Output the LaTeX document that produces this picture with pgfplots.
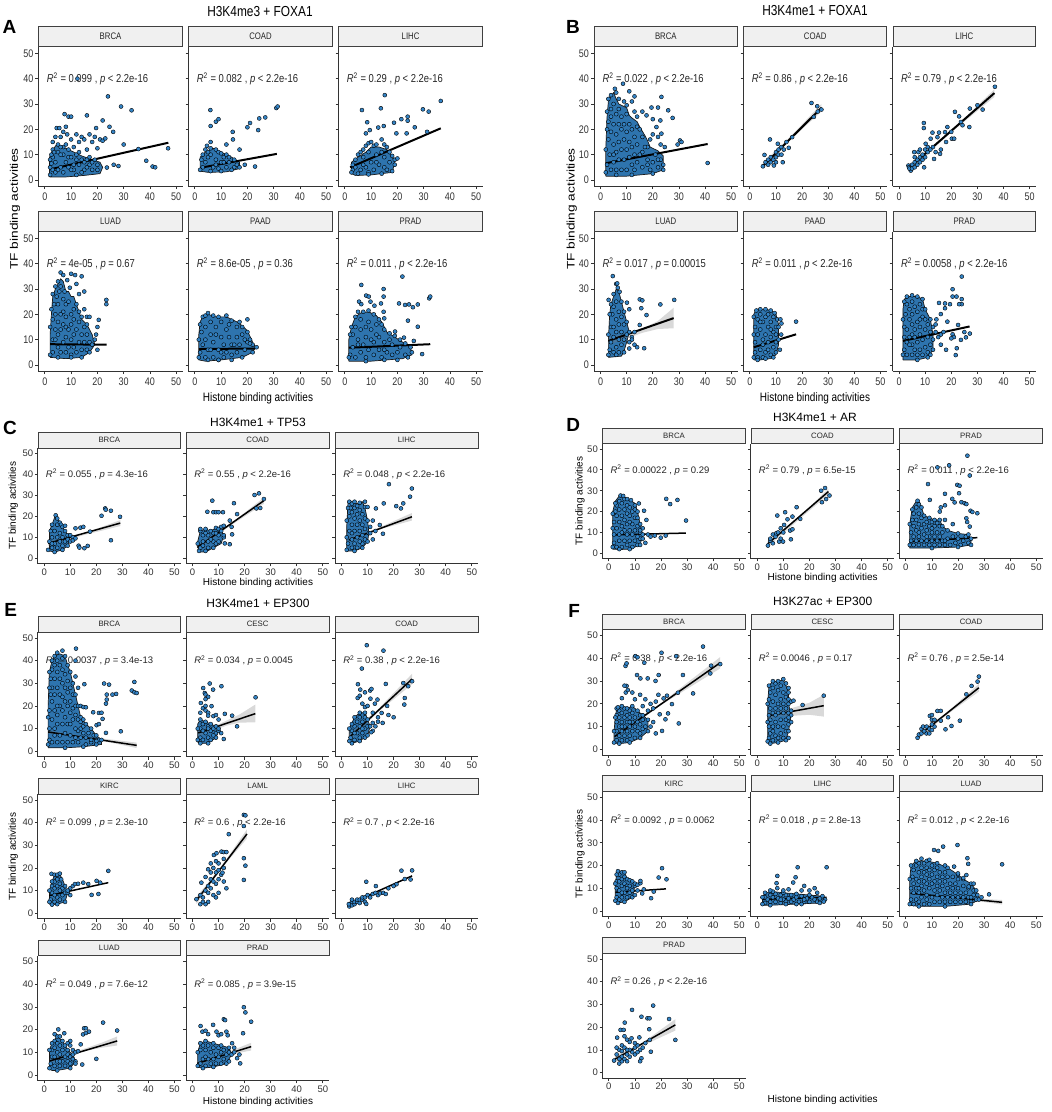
\documentclass[border=0pt]{standalone}
\usepackage{fontspec}
\setmainfont{Liberation Sans}
\newfontfamily\narrow[FakeStretch=0.82]{Liberation Sans}
\usepackage{graphicx}
\usepackage{pgfplots}
\pgfplotsset{compat=1.18}
\definecolor{ptblue}{RGB}{52,132,198}
\pgfplotsset{
  base/.style={scale only axis, anchor=north west, xmin=-2.5,xmax=52.5,ymin=-2.5,ymax=52.5,
    axis x line*=bottom, axis y line*=left, axis line style={-,line width=0.9pt,black!80},
    xtick={0,10,20,30,40,50}, ytick={0,10,20,30,40,50}, tick align=outside, major tick length=2.8pt,
    tick style={line width=0.8pt,black!80}, clip=false, /pgf/number format/assume math mode=true,
    every axis title/.style={at={(0.5,1)}, anchor=south, draw=black!75, fill=black!6, line width=0.8pt, inner sep=0pt, text=black!85}},
  ab/.style={base, height=139.3pt, ticklabel style={font=\narrow\fontsize{11}{11}\selectfont, text=black!80},
    yticklabel style={inner sep=2pt},
    every axis title/.append style={minimum height=20pt, font=\narrow\fontsize{9.5}{9.5}\selectfont}},
  cf/.style={base, ticklabel style={font=\fontsize{9.5}{9.5}\selectfont, text=black!80},
    xticklabel style={inner sep=2pt}, yticklabel style={inner sep=1.5pt},
    every axis title/.append style={minimum height=15.5pt, font=\fontsize{7.8}{7.8}\selectfont}},
  fA/.style={ab, width=144.5pt, every axis title/.append style={minimum width=143.7pt}},
  fB/.style={ab, width=143.7pt, every axis title/.append style={minimum width=142.9pt}},
  fC/.style={cf, width=143.3pt, height=115.2pt, every axis title/.append style={minimum width=142.5pt}},
  fD/.style={cf, width=143.5pt, height=114.7pt, every axis title/.append style={minimum width=142.7pt}},
  fE/.style={cf, width=143.3pt, height=124.6pt, every axis title/.append style={minimum width=142.5pt}},
  fF/.style={cf, width=143.5pt, height=125pt, every axis title/.append style={minimum width=142.7pt}},
  pts/.style={only marks, mark=*, mark size=2pt, mark options={fill=ptblue, draw=black, line width=0.4pt}},
  cloud/.style={fill=ptblue!88!black, draw=black!90, line width=0.7pt},
  band/.style={fill=gray, fill opacity=0.3, draw=none},
  regab/.style={black, line width=2pt},
  regcf/.style={black, line width=1.5pt},
}
\newcommand{\rlab}[2]{\node[anchor=west,inner sep=0pt,font=\narrow\fontsize{11.5}{11.5}\selectfont,text=black!85] at (axis cs:0.7,40) {\textit{R}\textsuperscript{2} = #1 , \textit{p} #2};}
\newcommand{\rlcf}[2]{\node[anchor=west,inner sep=0pt,font=\fontsize{9.5}{9.5}\selectfont,text=black!85] at (axis cs:0.6,40) {\textit{R}\textsuperscript{2} = #1 , \textit{p} #2};}
\begin{document}
\begin{tikzpicture}
\useasboundingbox (0,0) rectangle (1052pt,-1112pt);
% ---------------- Titles and labels ----------------
\node[font=\narrow\fontsize{14.5}{14.5}\selectfont] at (260pt,-12pt) {H3K4me3 + FOXA1};
\node[font=\narrow\fontsize{14.5}{14.5}\selectfont] at (815pt,-11pt) {H3K4me1 + FOXA1};
\node[font=\fontsize{12}{12}\selectfont] at (258pt,-422.3pt) {H3K4me1 + TP53};
\node[font=\fontsize{12}{12}\selectfont] at (815pt,-417.7pt) {H3K4me1 + AR};
\node[font=\fontsize{12}{12}\selectfont] at (258pt,-603.3pt) {H3K4me1 + EP300};
\node[font=\fontsize{12}{12}\selectfont] at (822.7pt,-601pt) {H3K27ac + EP300};
\node[font=\fontsize{19}{19}\selectfont\bfseries] at (9.5pt,-26.7pt) {A};
\node[font=\fontsize{19}{19}\selectfont\bfseries] at (573pt,-27pt) {B};
\node[font=\fontsize{19}{19}\selectfont\bfseries] at (10pt,-428pt) {C};
\node[font=\fontsize{19}{19}\selectfont\bfseries] at (573.3pt,-425pt) {D};
\node[font=\fontsize{19}{19}\selectfont\bfseries] at (10.8pt,-610.3pt) {E};
\node[font=\fontsize{19}{19}\selectfont\bfseries] at (574.2pt,-611.2pt) {F};
\node[rotate=90,font=\fontsize{13.7}{13.7}\selectfont] at (15pt,-209pt) {\scalebox{1}[0.8]{TF binding activities}};
\node[rotate=90,font=\fontsize{13.7}{13.7}\selectfont] at (571.7pt,-209pt) {\scalebox{1}[0.8]{TF binding activities}};
\node[font=\narrow\fontsize{12.2}{12.2}\selectfont] at (258pt,-398.3pt) {Histone binding activities};
\node[font=\narrow\fontsize{12.2}{12.2}\selectfont] at (815pt,-398.3pt) {Histone binding activities};
\node[rotate=90,font=\fontsize{10}{10}\selectfont] at (13.3pt,-505.7pt) {TF binding activities};
\node[font=\fontsize{10}{10}\selectfont] at (258pt,-583.3pt) {Histone binding activities};
\node[rotate=90,font=\fontsize{10}{10}\selectfont] at (580pt,-501pt) {TF binding activities};
\node[font=\fontsize{10}{10}\selectfont] at (822.7pt,-578.3pt) {Histone binding activities};
\node[rotate=90,font=\fontsize{10}{10}\selectfont] at (13.3pt,-856.7pt) {TF binding activities};
\node[font=\fontsize{10}{10}\selectfont] at (258pt,-1101.7pt) {Histone binding activities};
\node[rotate=90,font=\fontsize{10}{10}\selectfont] at (580pt,-854pt) {TF binding activities};
\node[font=\fontsize{10}{10}\selectfont] at (822.7pt,-1100pt) {Histone binding activities};
% ================= Panel A =================
\begin{axis}[fA, at={(38.3pt,-47pt)}, title=BRCA]
\addplot[cloud] coordinates {(1.8,1.2)(1.8,9)(3,12)(4.5,14)(6,13.5)(8,12.5)(10,11.5)(14,9.5)(18,8)(21,7)(22,5)(21,2.5)(15,1.8)(8,1.2)(1.8,1.2)};
\addplot[pts] coordinates {(3,4)(4,3)(6,5)(7,3)(8,7)(9,5)(11,4)(12,10)(13,6)(14,8)(15,4)(16,8)(17,6)(18,7)(20,4)(3,9)(5,11)(7,13)(9,9)(2.5,6.5)};
\addplot[pts] coordinates {(2,2)(2,5)(2,8)(2.5,10)(3,12)(3,15)(3.5,11)(4,17)(4.5,20.5)(5,14)(5.5,20.5)(6,17)(6,13)(7,19)(7,10)(7.5,26)(8,21)(8,14)(8.5,18)(9,25)(9,12)(10,25)(10,16)(10,9)(11,13)(12,18)(12,8)(13,15)(13,11)(14,17)(14,3)(15,16)(15,7)(16,25.5)(16,12)(17,18)(17,9)(18,15)(18,4)(19,17)(19.5,20.5)(20,12.5)(20,6)(21,16)(22,15.5)(23,16.4)(22,23.5)(24.6,21)(26,19)(30,14)(24,33)(29,29)(33,27.5)(12.4,40)(35.6,12.2)(38.6,7.6)(41,5.3)(42,5)(46.9,12.5)(23.6,4.9)(26.2,6)(28,5.5)(5,4)(10,4)(12,2)(16,5)(19,8)(4,7)(6,10)(11,6)};
\addplot[regab] coordinates {(2,4.2)(47,14.7)};
\rlab{0.099}{< 2.2e-16}
\end{axis}
\begin{axis}[fA, at={(188.3pt,-47pt)}, title=COAD, yticklabels={}]
\addplot[cloud] coordinates {(2,3.5)(2,9)(4,11)(7,12.5)(10,11)(14,9)(17,7)(17,4.5)(12,3.2)(5,3)(2,3.5)};
\addplot[pts] coordinates {(3,5)(4,7)(5,9)(7,5)(8,8)(9,4.5)(10,7)(12,5)(13,7)(15,5)(6,10)(11,9)};
\addplot[pts] coordinates {(2,4)(2.5,8)(3,10)(4,12)(5,11)(6,12.5)(8,12)(9,11)(10,10.5)(12,10)(13,9)(15,8)(16,6)(17,5)(14,4)(10,3.5)(6,3.5)(4.6,13.5)(6,15)(5.9,27.6)(6,21.3)(8,23)(9,24)(14.4,19)(14.5,16)(12,14)(17,12)(20,20.8)(21,22.5)(24.1,19.7)(24.5,24.3)(26.8,24.7)(22.9,5.3)(31,28.4)(31.5,29)(8,6)(11,7)(19,6)};
\addplot[regab] coordinates {(2,4.8)(31.2,10.3)};
\rlab{0.082}{< 2.2e-16}
\end{axis}
\begin{axis}[fA, at={(338.3pt,-47pt)}, title=LIHC, yticklabels={}]
\addplot[cloud] coordinates {(2.5,2.5)(2.5,7)(5,9)(8,11)(10,13)(13,13)(16,12)(18,9)(19,7)(18,3)(10,2)(4,1.8)(2.5,2.5)};
\addplot[pts] coordinates {(3,4)(4,5)(6,4)(7,9)(8,5)(9,11)(10,7)(11,4)(12,10)(13,6)(14,11)(15,9)(16,4)(17,7)(9,3)};
\addplot[pts] coordinates {(2.5,3)(3,6)(4,8)(5,10)(6,11)(7,12)(8,13.5)(9,14.5)(10,15)(11,13.5)(12,14)(14,16)(15,14)(16,13)(17,11)(18,9.5)(19,8)(19,6)(18,3.5)(14,2.5)(9,2.2)(5,2.5)(15.2,33.5)(6.5,27.6)(13.7,28.3)(8.5,22.8)(8,18.4)(9.5,19.7)(12.7,20.7)(14.8,21.3)(18.7,22.6)(21.5,24)(23.9,25)(23.9,23.4)(26.6,20.8)(29.7,27.9)(31.9,27)(36.5,31.2)(23.5,18.4)(19.6,18.4)(31.3,19)(20,8.5)(12,7)(7,6)(15,5)};
\addplot[regab] coordinates {(2,5)(36.5,20.4)};
\rlab{0.29}{< 2.2e-16}
\end{axis}
\begin{axis}[fA, at={(38.3pt,-232pt)}, title=LUAD]
\addplot[cloud] coordinates {(2,3)(2,12)(2.5,20)(3,27)(4,30)(5,32)(6,34)(7,33)(8,29)(9,29)(10,27)(11,27)(12,24)(13,21)(14,18)(16,16)(18,12)(19,8)(17,5)(14,3)(8,2.5)(2,3)};
\addplot[pts] coordinates {(3,5)(3,10)(3,18)(3.5,24)(4,14)(4,20)(4.5,27)(5,7)(5,12)(5,17)(5,24)(5.5,29)(6,5)(6,14)(6,31)(7,9)(7,16)(7,21)(7.5,29)(8,5)(8,11)(8,19)(8,24)(9,7)(9,14)(9,25)(10,4)(10,10)(10,16)(11,7)(11,18)(11,22)(12,5)(12,14)(13,9)(13,17)(14,6)(14,12)(15,9)(16,6)(16,12)(17,9)};
\addplot[pts] coordinates {(2,4)(2,15)(2.5,22)(3,28)(4,31)(5,33)(6,36.5)(7,35.5)(8.5,33.5)(9.5,30.5)(10,36)(11.5,35.5)(12,32)(14,35)(13,28)(15,29)(12,24)(13,21)(15,22)(14,19)(16,19)(17,19)(16,16)(15,15)(20,15)(19.5,12)(20.5,17.8)(23.4,25.7)(23.4,24)(19,10)(20,6)(18,8)(17,5)(14,3)(10,3)(5,3)(6,20)(8,15)(4,10)(10,20)(7,26)(11,12)};
\addplot[regab] coordinates {(2,8.2)(23.5,8)};
\rlab{4e-05}{= 0.67}
\end{axis}
\begin{axis}[fA, at={(188.3pt,-232pt)}, title=PAAD, yticklabels={}]
\addplot[cloud] coordinates {(1.5,2)(1.5,12)(2,17)(3,19)(5,20)(8,19)(12,19)(16,17)(18,15.5)(20,13.5)(22,9)(23,7)(22,5)(18,3)(10,2)(4,1.5)(1.5,2)};
\addplot[pts] coordinates {(2,5)(2.5,13)(3,8)(4,3)(4,15)(5,6)(6,12)(6,17)(7,3)(7,9)(8,15)(9,6)(10,11)(10,17)(11,3)(11,8)(12,5)(13,11)(13,16)(14,4)(14,8)(16,5)(16,11)(17,8)(18,12)(19,6)(20,9)(9,2)};
\addplot[pts] coordinates {(1.5,3)(1.5,10)(2,16)(3,19)(4,19.5)(5,20.5)(7,19.5)(9,19)(12,19.5)(14,17.5)(17,17)(16,15)(18,15)(20,18)(20,13)(21,10)(22,8)(23.5,7)(21,8.5)(19,10)(22,5)(18,3)(14,2)(9,2)(5,2)(4,10)(8,12)(12,14)(15,8)(6,6)(10,5)};
\addplot[regab] coordinates {(1.5,6.3)(23,6.5)};
\rlab{8.6e-05}{= 0.36}
\end{axis}
\begin{axis}[fA, at={(338.3pt,-232pt)}, title=PRAD, yticklabels={}]
\addplot[cloud] coordinates {(1.5,1.5)(1.5,10)(2.5,15)(4,19)(6,20.5)(9,21)(12,19.5)(14,17)(16,13)(19,11)(22,9)(25,7)(25.5,4)(22,2.5)(10,1.5)(1.5,1.5)};
\addplot[pts] coordinates {(2,4)(3,7)(3,12)(4,3)(4,15)(5,10)(6,5)(6,14)(6,18)(7,8)(8,3)(8,11)(9,6)(9,17)(10,14)(11,4)(11,9)(12,16)(13,6)(13,11)(14,3)(15,9)(16,5)(17,10)(18,4)(18,8)(20,5)(21,7)(23,4)};
\addplot[pts] coordinates {(1.5,3)(2,12)(2.5,15)(4,19)(5,21)(7,21)(9,21.5)(11,20)(13,18)(14,16)(15,14)(17,12.5)(19,11.5)(21,10)(23,8.5)(25,7)(25.5,5)(24,3)(20,2)(15,2)(8,1.5)(21.9,34.9)(6.25,31.6)(14.75,30)(14.75,27)(8.1,27.4)(9.1,27)(9.75,25)(11.25,23.4)(5.4,25)(6.25,24)(13.75,24.3)(20.6,24.3)(22.9,23.7)(24.4,23.9)(25.9,22.8)(27.75,23.9)(32.1,26.3)(32.5,27)(24,17.5)(27.75,15.1)(29.4,4.3)(14.75,21)(15,18.4)(19.1,13.2)(22.5,10.8)(26.25,9.5)(5,8)(10,10)(15,6)(8,15)(12,12)};
\addplot[regab] coordinates {(1.5,6.8)(32.5,8.2)};
\rlab{0.011}{< 2.2e-16}
\end{axis}
% ================= Panel B =================
\begin{axis}[fB, at={(594pt,-47pt)}, title=BRCA]
\addplot[cloud] coordinates {(2,1.5)(2,12)(2.5,25)(3,31)(4,33)(5,34.5)(6,32)(7,30)(9,29)(10,28.5)(11,25.5)(12,24.5)(14,23)(15,21)(17,17.5)(18,15.5)(19,13)(22,11.5)(24,9.5)(24,4)(20,2.5)(10,1.5)(2,1.5)};
\addplot[pts] coordinates {(2.5,6)(3,16)(3,23)(3.5,10)(4,4)(4,19)(4,28)(5,7)(5,14)(5,22)(5,30)(6,4)(6,11)(6,18)(6,26)(7,8)(7,15)(7,22)(7,28)(8,4)(8,12)(8,25)(9,8)(9,16)(9,22)(10,4)(10,19)(10,26)(11,9)(11,15)(11,22)(12,6)(12,13)(12,20)(13,4)(13,10)(13,17)(14,7)(14,14)(14,21)(16,5)(16,11)(16,17)(18,8)(18,13)(19,4)(20,7)(21,10)(22,5)(23,8)};
\addplot[pts] coordinates {(2,3)(2,12)(2.5,20)(2.5,27)(3,32)(4,33.5)(5.5,36)(6,34.5)(7,32)(9,31)(10,29.5)(12,31)(13,27)(14,25)(16,27)(17.6,25.5)(19.5,28.6)(20,24)(21.4,20.9)(22,28.6)(22.9,23.5)(23.3,32.8)(23.3,18.3)(25.9,27.5)(27.6,24.5)(8.6,38)(13,33)(11,35)(20,18)(22,17)(23,14)(24.6,13)(19,16)(29.5,14)(30.4,15.6)(31,15)(41,6.7)(15,20)(17,13)(22,8)(24,6)(24,4)(20,2.5)(12,2)(6,2)(5,10)(10,12)(8,20)(15,10)(18,6)(4,25)};
\addplot[regab] coordinates {(2,6.6)(41,14.2)};
\rlab{0.022}{< 2.2e-16}
\end{axis}
\begin{axis}[fB, at={(743.3pt,-47pt)}, title=COAD, yticklabels={}]
\addplot[pts] coordinates {(5,5.4)(5.6,9.9)(6,7)(7,8)(7,6)(7.7,16)(8,7)(8,9)(9.2,5.7)(9,8)(10,7)(10,9)(10,11)(10.7,14.3)(11,10)(11,12)(12,13)(12.1,10)(12.6,7)(13,12)(14,15)(14.9,12.7)(16.2,16.9)(23.6,30.4)(24.5,24.9)(25.8,29.1)(27.4,27.8)(26,27)};
\addplot[band] coordinates {(5,6.8)(16,17.6)(27.4,30)(27.4,27)(16,16.4)(5,4.2)};
\addplot[regab] coordinates {(5,5.5)(27.4,28.5)};
\rlab{0.86}{< 2.2e-16}
\end{axis}
\begin{axis}[fB, at={(892.5pt,-47pt)}, title=LIHC, yticklabels={}]
\addplot[pts] coordinates {(3.6,5.7)(3.8,5)(4.5,3.7)(4,4.5)(5,4.5)(5,6)(5.8,11)(6,5)(6,7)(7,6)(7,8)(7.4,11)(8,7)(8,9)(9,8)(9,10)(9.6,5)(10,9)(10,12)(10.2,14.3)(9.5,22.5)(9.5,20.5)(11,11)(11,13)(12,12)(12.1,16.3)(12.8,18.7)(13,13)(13.4,8.3)(14,11)(14.7,16.9)(15.3,18.7)(15.7,10.3)(16,12)(17.6,18.9)(18.5,20.9)(20.2,16.3)(21.1,16.3)(21.4,26.9)(23,25.1)(23.7,22.9)(24.3,21.6)(26.9,20.9)(27.1,28.2)(30,29.5)(32,27.8)(36.7,36.8)(18,15)(20,19)(8,12)(6,9)};
\addplot[band] coordinates {(3.5,5.6)(20,19.5)(36.5,35.8)(36.5,32.8)(20,18.8)(3.5,3.4)};
\addplot[regab] coordinates {(3.5,4.5)(36.5,34.3)};
\rlab{0.79}{< 2.2e-16}
\end{axis}
\begin{axis}[fB, at={(594pt,-232pt)}, title=LUAD]
\addplot[cloud] coordinates {(3,3)(3,10)(3.5,20)(4,24)(5,27)(6,30)(7,29)(8,25)(9,21)(10,17)(11,13)(10,9)(9,5.5)(8,3.5)(3,3)};
\addplot[pts] coordinates {(3.5,6)(4,9)(4,15)(4.5,20)(5,5)(5,11)(5,23)(6,7)(6,13)(6,18)(6,25)(7,5)(7,16)(7,21)(8,8)(8,13)(8,19)(9,10)(9,16)};
\addplot[pts] coordinates {(3,4)(3,12)(3.5,20)(4,24)(3.1,25.7)(5,28)(4.7,35.1)(6,32)(6.4,32.2)(6.6,30.5)(7.3,28.9)(8,25)(9,21)(10.1,24.6)(10,17)(11,13)(11,22)(12,11)(13,13)(12,10)(13,8)(11,6.5)(14,7)(16.7,6.6)(15,25.9)(16,25.5)(15.6,22.4)(17.6,19.7)(15,15.8)(22.9,23.9)(28.2,25.7)(10,12)(11,9)(9,5)(6,4)(5,15)(7,10)};
\addplot[band] coordinates {(3,11)(10,12.4)(16,14.3)(22,17.4)(28,22.6)(28,14.5)(22,14.2)(16,12.7)(10,10.4)(3,8)};
\addplot[regab] coordinates {(3,9.5)(28,18.5)};
\rlab{0.017}{= 0.00015}
\end{axis}
\begin{axis}[fB, at={(743.3pt,-232pt)}, title=PAAD, yticklabels={}]
\addplot[cloud] coordinates {(1.5,2)(1.5,20)(2.5,22)(6,22)(8,21.5)(10,20)(11,16)(11,8)(10,4)(8,2.5)(4,2)(1.5,2)};
\addplot[pts] coordinates {(2,5)(2,9)(2,15)(3,3)(3,12)(3,18)(4,6)(4,14)(4,20)(5,3)(5,8)(5,17)(6,5)(6,12)(6,19)(7,9)(7,15)(7,20)(8,4)(8,11)(8,17)(9,7)(9,13)(9,19)(10,9)(10,15)(10,12)};
\addplot[pts] coordinates {(1.5,3)(1.5,12)(1.5,19)(2.5,21.5)(4,22)(6,22)(8,21.5)(9.5,20.5)(10.5,18)(11,15)(11,10)(11.7,18)(12.1,16.4)(17.7,17.1)(11.5,6)(10,5)(12,12)(9,3)(6,2.5)(3,2)(5,10)(8,14)(4,17)(7,6)};
\addplot[regab] coordinates {(1.5,7)(17.7,12.1)};
\rlab{0.011}{< 2.2e-16}
\end{axis}
\begin{axis}[fB, at={(892.5pt,-232pt)}, title=PRAD, yticklabels={}]
\addplot[cloud] coordinates {(1.5,2)(1.5,22)(2,26)(4,27)(7,27)(9,26)(10,22)(12,18)(13,12)(13,6)(11,3)(7,2)(1.5,2)};
\addplot[pts] coordinates {(2,6)(2,11)(2,15)(2.5,20)(3,4)(3,9)(3,14)(3,24)(4,11)(4,18)(4,22)(5,4)(5,8)(5,16)(5,20)(5,25)(6,6)(6,11)(6,14)(6,23)(7,4)(7,9)(7,17)(7,21)(8,6)(8,12)(8,15)(8,24)(9,4)(9,10)(9,19)(9,22)(10,7)(10,14)(10,18)(11,5)(11,11)(11,16)(12,8)(12,13)(12,4)};
\addplot[pts] coordinates {(1.5,4)(1.5,18)(2,25)(3,27)(5,27.5)(7,27)(9,26)(10,22)(12,18)(13,15)(13,10)(13,6)(11,3)(7,2)(24,34.9)(20.5,29.9)(20.5,27)(22,27)(24,26)(24,24)(23,24)(19.5,24)(17.6,24.3)(15.3,24.5)(17.6,22.4)(16,20.1)(14.3,18)(14,16)(18.5,17.1)(22.6,15.8)(20.5,12.1)(15,11)(16,12)(21,11)(23.7,9.9)(22.1,6.6)(21.7,3.9)(25.6,10.9)(27.1,12.4)(14,13)(17,13)(20,10.5)(25,13)(16,8)(18,6)(5,12)(8,18)(4,8)};
\addplot[regab] coordinates {(1.5,9.5)(27,15.2)};
\rlab{0.0058}{< 2.2e-16}
\end{axis}
% ================= Panel C =================
\begin{axis}[fC, at={(37.7pt,-448.3pt)}, title=BRCA]
\addplot[cloud] coordinates {(2,3.5)(2,13)(3,16)(4,19.5)(5,19.5)(6,17)(7,15)(8,13)(9,11)(10,10)(9,6)(7,4)(4,3)(2,3.5)};
\addplot[pts] coordinates {(3,5)(3,10)(4,7)(4,13)(5,5)(5,16)(6,8)(6,12)(7,6)(7,10)(8,8)(9,9)};
\addplot[pts] coordinates {(1.5,4)(2,8)(2.5,13)(3,16)(4.4,20.5)(5,19)(6,17)(6.5,16)(7,15)(8,13)(8,15.5)(9,11)(10,11)(10,8)(11,10)(11,8.5)(12,9.5)(12,14.3)(13.9,14.6)(15,15)(13.2,6)(13.5,5.1)(15.4,4.8)(16.7,5.9)(17.6,12.7)(22,20.3)(23.4,23.8)(23.6,23.2)(25.6,22.7)(25.6,8.6)(29.1,19.8)(9,6)(7,4)(4,3)(5,10)(3,7)};
\addplot[band] coordinates {(1.5,8.2)(15,11.8)(29.2,18.2)(29.2,15.4)(15,11)(1.5,6)};
\addplot[regcf] coordinates {(1.5,7.1)(29.2,16.8)};
\rlcf{0.055}{= 4.3e-16}
\end{axis}
\begin{axis}[fC, at={(186pt,-448.3pt)}, title=COAD, yticklabels={}]
\addplot[cloud] coordinates {(2.5,3)(2,8)(3,13)(5,14)(7,13)(9,14.5)(11,13)(12,11)(11,7)(8,5)(5,3)(2.5,3)};
\addplot[pts] coordinates {(3,5)(4,8)(6,5)(6,11)(8,8)(8,12)(10,11)(9,7)};
\addplot[pts] coordinates {(2.5,3.5)(2,7)(3,13)(3,14)(4,11)(5,12)(5,14)(7,9)(7,13)(9,12)(9,14.5)(10,14)(11,15)(11,13)(12,10)(12,11)(10,8)(8,5)(5,3.5)(7.6,27.5)(5.7,22.2)(8,22)(9,22)(10,22)(11.7,22)(14.3,18)(15.9,26.3)(17.1,21.1)(15,15)(12,15.5)(15.2,11.4)(12.4,7.1)(14.3,6.7)(23.8,30.2)(25.5,31)(24.5,23.8)(26,24)(27.4,28.3)(4,6)(6,8)};
\addplot[band] coordinates {(1.8,6.4)(14,15.9)(27.4,29)(27.4,26)(14,15.1)(1.8,4)};
\addplot[regcf] coordinates {(1.8,5.2)(27.4,27.5)};
\rlcf{0.55}{< 2.2e-16}
\end{axis}
\begin{axis}[fC, at={(335pt,-448.3pt)}, title=LIHC, yticklabels={}]
\addplot[cloud] coordinates {(2,3.5)(2,15)(2.5,27)(4,27)(6,26)(8,27)(9,24)(10,18)(10.5,12)(10,8)(8,5)(5,3.5)(2,3.5)};
\addplot[pts] coordinates {(2.5,7)(3,13)(3,20)(3.5,24)(4,5)(4,9)(4,16)(4,22)(5,7)(5,13)(5,19)(5,24)(6,5)(6,10)(6,21)(7,13)(7,18)(7,23)(8,7)(8,11)(8,16)(8,21)(9,9)(9,14)(9,19)};
\addplot[pts] coordinates {(2,4)(2,10)(2,18)(2.5,24)(3,27)(4,26)(5,27)(6,25)(7,26.5)(9,27)(9,24.5)(10,24.5)(10,18)(10.5,12)(10,8)(8,5)(5,3.5)(12,18)(11,12)(13.2,23.8)(14.7,15.9)(15.9,11.7)(16.2,26.2)(18.2,35.4)(21,24.9)(22.8,23.8)(23.7,26.2)(26.3,29.4)(27,33.3)(12,9)(11,15)(13,13)(4,12)(6,16)(7,8)};
\addplot[band] coordinates {(2.8,9.6)(14,14.4)(27,21.6)(27,18)(14,13.6)(2.8,7.8)};
\addplot[regcf] coordinates {(2.8,8.7)(27,19.8)};
\rlcf{0.048}{< 2.2e-16}
\end{axis}
% ================= Panel D =================
\begin{axis}[fD, at={(602.3pt,-443.8pt)}, title=BRCA]
\addplot[cloud] coordinates {(1.5,2)(1.5,20)(2.5,25)(4,27.5)(6,27)(8,25.5)(10,24)(11,20)(12,14)(13,9)(12,4)(8,2)(4,1.8)(1.5,2)};
\addplot[pts] coordinates {(2,5)(2,9)(2,15)(2.5,20)(3,3)(3,12)(3,23)(4,6)(4,9)(4,15)(4,21)(4,25)(5,3)(5,13)(5,18)(5,24)(6,6)(6,11)(6,16)(6,21)(6,26)(7,4)(7,9)(7,14)(7,19)(7,23)(8,6)(8,11)(8,18)(8,22)(9,3)(9,9)(9,14)(9,20)(10,6)(10,11)(10,17)(10,21)(11,4)(11,13)(11,17)(12,7)(12,10)};
\addplot[pts] coordinates {(1.5,3)(1.5,12)(1.5,19)(2.5,24)(4.5,27.7)(5.5,27.5)(7,26)(8.5,25.5)(10,23)(11.5,23.9)(11,20)(12,14)(13,9)(12,4)(8,2)(4,2)(13.5,20.4)(14.4,16)(13,12)(15,9)(16,8)(17.6,8.5)(19.9,7.5)(21.8,8.5)(22,26.1)(23.5,23.6)(26.3,25.6)(29.6,15.7)(12,11)(11,8)(14,5)(13,7)(5,10)(8,15)(3,18)};
\addplot[regcf] coordinates {(1.5,8.8)(29.5,9.7)};
\rlcf{0.00022}{= 0.29}
\end{axis}
\begin{axis}[fD, at={(750.7pt,-443.8pt)}, title=COAD, yticklabels={}]
\addplot[pts] coordinates {(4.1,3.7)(5,6)(6,4.8)(5,7)(6,9)(7,8)(7.3,9.6)(7.7,18.1)(8.4,5.6)(8,10)(9,7)(9,12)(9.9,5.6)(10,10)(10.3,13.6)(10.7,19.7)(11.6,16.3)(13.5,17.6)(12.6,10.9)(13.5,11.5)(12.9,6.7)(15.1,22.1)(16.5,16.5)(24.5,30)(26,31.3)(24.8,24.5)(26.4,26)(27.7,27.7)};
\addplot[band] coordinates {(4,6)(16,17.3)(27.3,31)(27.3,28.2)(16,16.2)(4,3)};
\addplot[regcf] coordinates {(4,4.5)(27.3,29.6)};
\rlcf{0.79}{= 6.5e-15}
\end{axis}
\begin{axis}[fD, at={(899.3pt,-443.8pt)}, title=PRAD, yticklabels={}]
\addplot[cloud] coordinates {(1.5,2.5)(1.5,14)(2.5,22)(4,25)(5,25)(6,22)(7,18)(9,17)(11,16)(13,16)(14,13)(16,11)(20,9.5)(24,9)(25,7)(25,4)(20,3)(10,2.5)(1.5,2.5)};
\addplot[pts] coordinates {(2,6)(2,10)(2.5,16)(3,4)(3,8)(3,13)(3,19)(4,6)(4,11)(4,16)(4,22)(5,4)(5,8)(5,14)(5,19)(6,6)(6,12)(6,17)(7,4)(7,9)(7,14)(8,6)(8,11)(8,15)(9,4)(9,8)(9,13)(10,6)(10,10)(10,15)(11,4)(11,8)(11,13)(12,6)(12,10)(13,4)(13,8)(13,13)(14,6)(14,10)(15,4)(16,7)(17,4)(18,8)(19,5)(20,7)(21,4)(22,6)(23,8)(24,5)};
\addplot[pts] coordinates {(1.5,4)(1.5,14)(2.5,21)(4.5,25.2)(5,23.5)(6,22)(7,18)(9,17)(11,16)(13,16)(14,13)(16,11)(20,9.5)(24,9)(25,7)(25,4)(20,3)(10,2.5)(8.5,33.2)(9.2,25.6)(12.1,41.2)(16.6,42.2)(15,28.5)(15,23)(13.4,22)(13,20)(17.8,26.1)(18.7,24.4)(19.7,32.8)(20.6,32.4)(20.4,28.8)(21.3,24.5)(22.5,24)(23.6,46.8)(24.5,37.3)(23.2,23.6)(23.2,16.8)(23.5,15)(24.5,12.8)(24.8,20.4)(25.5,19.8)(27.4,19.2)(15,16)(18,14)(12,14.5)(10,12)(5,10)(8,8)(15,6)};
\addplot[regcf] coordinates {(1.5,5.6)(27.4,7.5)};
\rlcf{0.011}{< 2.2e-16}
\end{axis}
% ================= Panel E =================
\begin{axis}[fE, at={(37.7pt,-632.3pt)}, title=BRCA]
\addplot[cloud] coordinates {(1.5,1.5)(1.5,20)(2,35)(3,40)(4,42)(6,43)(8,42)(9,38)(10,35)(11,30)(12,25)(13,20)(14,15)(16,12)(18,10)(20,7)(22,5)(22,3)(15,2)(8,1.5)(1.5,1.5)};
\addplot[pts] coordinates {(2,5)(2,10)(2,18)(2.5,25)(2.5,32)(3,4)(3,14)(3,22)(3,28)(3,36)(4,7)(4,18)(4,25)(4,32)(4,38)(5,4)(5,12)(5,16)(5,28)(5,35)(5,40)(6,7)(6,20)(6,25)(6,32)(6,38)(7,4)(7,12)(7,18)(7,24)(7,36)(7,41)(8,8)(8,15)(8,22)(8,28)(8,34)(9,4)(9,12)(9,26)(9,31)(10,7)(10,17)(10,22)(10,28)(11,4)(11,14)(11,19)(11,25)(12,6)(12,16)(12,20)(13,4)(13,9)(13,14)(14,6)(14,10)(15,8)(15,11)(16,3)(17,8)(18,4)(19,7)(20,3)(21,5)};
\addplot[pts] coordinates {(1.5,3)(1.5,15)(2,28)(2,35)(3,40)(4,42)(5,43.5)(7,44.4)(8,42)(9,38)(10,35)(11,30)(12.2,45.3)(12,40)(12,33)(15.4,29.6)(13,28)(12,25)(13,20)(14,20)(15,19.5)(16,19.4)(14,15)(14,13)(15,14)(16,12)(18.8,17.2)(21,16.9)(22,17)(22.4,14.3)(20.1,11.5)(21,12)(18,10)(20,7)(22,5)(23.7,8.1)(24,25)(23,29.9)(24.9,29.4)(24,22.8)(23.7,21)(26.2,25)(27.6,25.3)(29.4,8.8)(34.6,30.6)(33.6,26.8)(34.6,26)(35.5,25.7)(16,6)(18,5)(20,4.5)(12,10)(10,12)(15,2)(8,1.5)(5,20)(7,30)(4,10)(9,20)};
\addplot[band] coordinates {(1.5,9.2)(18,6.2)(35.5,3.8)(35.5,1.4)(18,5.6)(1.5,7.8)};
\addplot[regcf] coordinates {(1.5,8.5)(35.5,2.6)};
\rlcf{0.0037}{= 3.4e-13}
\end{axis}
\begin{axis}[fE, at={(186pt,-632.3pt)}, title=CESC, yticklabels={}]
\addplot[cloud] coordinates {(2,4)(2,12)(3,14)(5,13)(7,12)(9,11)(10,9)(9,6)(6,3.5)(3,3.5)(2,4)};
\addplot[pts] coordinates {(3,6)(3,10)(4,5)(4,12)(5,8)(6,6)(6,11)(7,5)(7,9)(8,10)(9,8)};
\addplot[pts] coordinates {(2,5)(2,10)(3,14)(4,12)(5,13)(7,12)(9,11)(10,9)(9,6)(6,3.5)(3,3.5)(4.1,27.9)(4.7,25.7)(5,25)(6,24)(5,23)(6.6,29.9)(7.9,27.2)(11.1,28.7)(3.2,21.3)(4,19)(5,18)(6,17)(7.3,19.9)(8,15.5)(6,15.7)(9,16)(10,14)(12.4,16.5)(15.2,15.7)(17.1,11)(24.2,23.8)(10,10)(11,8)(12,5.4)(4,9)(6,10)(8,7)(3,17)(5,20)};
\addplot[band] coordinates {(2.2,9.5)(8,10.8)(13,13.5)(18,16.2)(24.1,20.6)(24.1,12.8)(18,12.6)(13,11.3)(8,9)(2.2,6.6)};
\addplot[regcf] coordinates {(2.2,8.1)(24.1,16.6)};
\rlcf{0.034}{= 0.0045}
\end{axis}
\begin{axis}[fE, at={(335pt,-632.3pt)}, title=COAD, yticklabels={}]
\addplot[cloud] coordinates {(3,4)(3,10)(5,15)(7,17)(9,17)(10,14)(11,11)(10,7)(7,4.5)(4,3.5)(3,4)};
\addplot[pts] coordinates {(3.5,6)(4,9)(5,5)(5,11)(6,8)(6,13)(7,6)(7,11)(7,15)(8,8)(8,13)(9,10)(9,15)(10,11)(9,6)};
\addplot[pts] coordinates {(3,4.5)(3,10)(4,12)(5,15)(7,17)(9,17)(10,14)(11,11)(10,7)(7,4.5)(4,3.5)(9.7,46.8)(16.1,44.4)(7.8,36.5)(6.3,29.6)(7.2,27.2)(11,26.8)(11.5,27.5)(9,26)(6.2,23.5)(7,24.5)(8,21)(9,19.5)(10,20)(11.1,23.2)(12.8,21)(13.8,22.8)(12,17)(15.4,16.9)(14,13)(17,29.7)(12,12.5)(15.8,12.5)(12,9)(11.4,8.4)(23.7,30.1)(24.3,23.5)(24.1,20.6)(25.6,28.7)(27.1,30.9)(17.5,20)(18,16)(20,15)(14,15)(13,11)(5,8)(8,10)};
\addplot[band] coordinates {(2.8,7.4)(14,18.5)(27.1,34.2)(27.1,29.6)(14,17.3)(2.8,4.4)};
\addplot[regcf] coordinates {(2.8,5.9)(27.1,31.9)};
\rlcf{0.38}{< 2.2e-16}
\end{axis}
\begin{axis}[fE, at={(37.7pt,-794.3pt)}, title=KIRC]
\addplot[cloud] coordinates {(2,4)(2,10)(3,14)(4,17)(6,17)(7,15)(8,12)(9,9)(8,5)(5,4)(3,3.8)(2,4)};
\addplot[pts] coordinates {(2.5,6)(3,9)(3,12)(4,5)(4,11)(4,14)(5,7)(5,12)(5,15)(6,6)(6,13)(7,8)(7,11)(8,9)};
\addplot[pts] coordinates {(2,5)(2,10)(3,14)(2.8,17.4)(4,17)(5,17)(6,17.5)(6.5,15)(8,12)(9,9)(8,5)(5,4)(3,3.8)(10,11)(11,12)(11.8,12.9)(13,13)(15,13.5)(16.9,12.9)(18.2,8.1)(20.8,8.5)(20.1,14.3)(21.5,13.5)(24.6,18.7)(9,10)(10,8)(4,8)(6,10)};
\addplot[regcf] coordinates {(1.9,7.8)(24.6,13.5)};
\rlcf{0.099}{= 2.3e-10}
\end{axis}
\begin{axis}[fE, at={(186pt,-794.3pt)}, title=LAML, yticklabels={}]
\addplot[pts] coordinates {(1.5,6.2)(3,4)(4,7)(3.4,13.5)(5,10)(5,16)(6,12)(6,19.4)(6,5)(7,22)(7,15)(8,8)(8,20)(8.2,25.7)(9,18)(9,13)(9.2,26.5)(10,22)(10,15)(10,9)(11.1,27.2)(12,27)(11,17)(12,20)(12,24)(11.5,17.9)(13,11)(13.9,34.9)(13,27)(19.7,43.4)(20.3,43.2)(19.7,38.5)(19.7,24.3)(20.3,21)(19.7,14.7)(6,9)(7,11)(5,4)(4,5)(9,7)(3,8)(8,14)(10,19)(12,14)(7,18)(9,23)};
\addplot[band] coordinates {(1.5,7.2)(11,20.6)(20.9,37)(20.9,33)(11,19.6)(1.5,4)};
\addplot[regcf] coordinates {(1.5,5.6)(20.9,35)};
\rlcf{0.6}{< 2.2e-16}
\end{axis}
\begin{axis}[fE, at={(335pt,-794.3pt)}, title=LIHC, yticklabels={}]
\addplot[pts] coordinates {(3,3)(3,4)(4,3.5)(4,5)(5,4)(5,5)(6,5)(6,6)(7,6)(7,4.5)(8,6)(8,7)(9,7)(9,5)(9.5,4.1)(10,8)(9.5,13.9)(11,7)(12,8.5)(13,9)(13.2,12)(14,8)(14.8,8.8)(16,9)(17,8.5)(21.1,12.8)(23,18.8)(24.3,15.1)(26.5,14.9)(27.1,18.9)(20,12)(18,11)(4,6)(2.8,4)};
\addplot[regcf] coordinates {(2.8,4)(27.1,16.5)};
\rlcf{0.7}{< 2.2e-16}
\end{axis}
\begin{axis}[fE, at={(37.7pt,-956pt)}, title=LUAD]
\addplot[cloud] coordinates {(2,2.5)(2,11)(3,14)(5,17)(7,15)(8,13)(9,11)(11,9)(12,6)(10,3)(5,2)(3,2)(2,2.5)};
\addplot[pts] coordinates {(2.5,5)(3,8)(3,11)(4,4)(4,12)(4,15)(5,6)(5,10)(5,14)(6,4)(6,9)(6,13)(7,6)(7,11)(8,4)(8,8)(9,6)(9,9)(10,5)(10,8)};
\addplot[pts] coordinates {(2,3)(2,11)(3,14)(5,17)(7,15)(8,13)(9,11)(11,9)(12,6)(10,3)(5,2)(5.4,20.1)(6,17)(4,18)(7.7,18.4)(10,15)(9,14)(10,13)(11,11)(12,10)(13,10.5)(14,13.5)(14.6,4.6)(14.9,17.9)(16,18.5)(15.3,20.6)(16,20.6)(17.2,19.1)(20,7.1)(22.6,23.1)(28,19.6)(12,5)(11,7)(4,8)(6,6)};
\addplot[band] coordinates {(2.2,7.2)(10,9.6)(16,11.8)(22,14.2)(28,17)(28,13)(22,12)(16,10.6)(10,8.6)(2.2,5.2)};
\addplot[regcf] coordinates {(2.2,6.2)(28,15)};
\rlcf{0.049}{= 7.6e-12}
\end{axis}
\begin{axis}[fE, at={(186pt,-956pt)}, title=PRAD, yticklabels={}]
\addplot[cloud] coordinates {(2,3.5)(2,10)(3,14)(5,15)(8,14)(11,13)(14,12)(15,9)(13,5)(8,3.5)(4,3)(2,3.5)};
\addplot[pts] coordinates {(3,5)(3,11)(4,7)(4,13)(5,4)(5,11)(6,7)(6,13)(7,5)(7,10)(8,7)(8,12)(9,5)(10,8)(10,12)(11,5)(11,10)(12,7)(12,11)(13,9)(14,10)};
\addplot[pts] coordinates {(2,4)(2,10)(3,14)(5,15)(8,14)(11,13)(14,12)(15,9)(13,5)(8,3.5)(4,3)(3.1,21.6)(3.8,19.1)(5,19.5)(6,18)(7.9,22.1)(9.2,19.1)(10,17.5)(12,24.6)(12.5,24.2)(11,18)(13,19.1)(13.5,17.5)(15.2,14)(16,10)(17.1,7.4)(18.3,5.1)(19.4,18.4)(19.7,29.9)(20.3,27.6)(22.5,23.5)(18,9)(14,6)(16,12)(5,8)(9,9)};
\addplot[band] coordinates {(1.8,6.1)(12,9.4)(22.5,14.2)(22.5,10.8)(12,8.4)(1.8,4.1)};
\addplot[regcf] coordinates {(1.8,5.1)(22.5,12.5)};
\rlcf{0.085}{= 3.9e-15}
\end{axis}
% ================= Panel F =================
\begin{axis}[fF, at={(602.3pt,-630pt)}, title=BRCA]
\addplot[cloud] coordinates {(2,2.5)(2,8)(2.5,14)(3,18)(5,19)(7,18)(9,19)(11,17)(13,15)(15,13)(15,8)(12,5)(8,3)(4,2.5)(2,2.5)};
\addplot[pts] coordinates {(3,4)(3,8)(3,12)(3,15)(4,6)(4,10)(4,14)(4,17)(5,4)(5,8)(5,12)(5,16)(6,6)(6,10)(6,14)(6,18)(7,4)(7,8)(7,12)(7,15)(8,6)(8,10)(8,14)(8,17)(9,8)(9,12)(9,16)(10,5)(10,10)(10,14)(11,8)(11,12)(12,7)(12,11)(12,15)(13,9)(13,13)(14,10)};
\addplot[pts] coordinates {(2,3)(2,8)(2.5,14)(3,18)(3.5,18.5)(5,19)(7,18)(9,19)(11,17)(13,15)(15,13)(15,8)(12,5)(8,3)(4,2.5)(5,22.5)(6.8,27.9)(6,28)(6.5,25)(7.3,26.1)(6.4,36.7)(6.8,37.8)(10.2,41)(11,40.5)(13.6,38.1)(10.8,32.7)(12.1,31.2)(14.9,31.2)(17.9,30.1)(19.1,32.7)(20.2,42.5)(25.8,41)(28.4,32.7)(32.3,24.6)(36.1,45.2)(39.2,36.8)(38.9,33.4)(42.7,37.5)(21,22.4)(22.3,23.6)(24.2,19.9)(26.5,24.9)(26.8,11.4)(19.5,15.4)(20.4,8.1)(21.7,13.2)(22.7,15.8)(16,20)(17,18)(14,22)(12,24)(10,22)(9,25)(13,19)(15,17)(18,21)(19,24)(16,10)(17,12)(18,7)(5,10)(8,12)};
\addplot[band] coordinates {(2.2,6.6)(20,20.3)(42.7,40.6)(42.7,35.6)(20,19.5)(2.2,4.6)};
\addplot[regcf] coordinates {(2.2,5.6)(42.7,38.1)};
\rlcf{0.38}{< 2.2e-16}
\end{axis}
\begin{axis}[fF, at={(750.7pt,-630pt)}, title=CESC, yticklabels={}]
\addplot[cloud] coordinates {(4,3)(4,20)(4.5,28)(6,30)(8,30)(10,30.5)(11,28)(12,25)(12,20)(13,15)(12,8)(11,4)(8,3)(5,2.5)(4,3)};
\addplot[pts] coordinates {(4.5,5)(4.5,10)(4.5,15)(4.5,22)(5,7)(5,13)(5,18)(5,25)(6,4)(6,10)(6,16)(6,21)(6,27)(7,6)(7,12)(7,18)(7,24)(7,29)(8,5)(8,10)(8,16)(8,20)(8,26)(9,7)(9,13)(9,18)(9,28)(10,5)(10,10)(10,16)(10,20)(10,25)(11,8)(11,13)(11,18)(11,23)(12,11)(12,16)(12,22)};
\addplot[pts] coordinates {(4,3.5)(4,12)(4,20)(4.5,28)(6,30)(8,30)(10,30.9)(11,29)(12,27)(12,25)(12,20)(13,15)(12,8)(11,4)(8,3)(5,2.5)(13,21)(13.9,21.4)(17.4,19.5)(25.5,23.6)(12,5)(12,14)(13,12)(13,17)(7,15)(9,22)(6,8)};
\addplot[band] coordinates {(4.2,16.2)(9,16.8)(14,18.4)(20,20.5)(25.5,24)(25.5,14.4)(20,15.2)(14,14.8)(9,14.6)(4.2,13.4)};
\addplot[regcf] coordinates {(4.2,14.8)(25.5,19.2)};
\rlcf{0.0046}{= 0.17}
\end{axis}
\begin{axis}[fF, at={(899.3pt,-630pt)}, title=COAD, yticklabels={}]
\addplot[pts] coordinates {(4.5,5.1)(5,6.5)(6,7)(6,9)(6.6,10)(8,10)(7.9,7)(9,7)(9,9)(10,8.5)(10,13)(9.2,14.7)(10,15.1)(12.1,16.9)(13.4,16.9)(11,13)(13.4,12.6)(11,10)(16.2,14.1)(15.2,8.8)(17.5,10.3)(20.7,12.6)(23.2,24.2)(25.2,27.9)(27.5,29.8)(28,32)(10,11)(7,8)};
\addplot[band] coordinates {(4.5,7)(15,15.6)(28,28.8)(28,25.4)(15,14.6)(4.5,4.2)};
\addplot[regcf] coordinates {(4.5,5.6)(28,27.1)};
\rlcf{0.76}{= 2.5e-14}
\end{axis}
\begin{axis}[fF, at={(602.3pt,-791.6pt)}, title=KIRC]
\addplot[cloud] coordinates {(2.5,4)(2.5,12)(3,16)(4,17.5)(6,17)(7,14)(9,13)(10,11)(9,6)(6,4)(3.5,3.5)(2.5,4)};
\addplot[pts] coordinates {(3,6)(3,10)(3,13)(4,5)(4,9)(4,13)(4,16)(5,6)(5,11)(5,14)(6,8)(6,12)(6,15)(7,6)(7,11)(8,8)(8,11)(9,9)};
\addplot[pts] coordinates {(2.5,4.5)(2.5,12)(3,16)(3.5,17.5)(5,17)(6,17)(7,14)(8,13.5)(9,13)(10,11)(9,6)(6,4)(3.5,3.5)(10,12)(11,11.5)(12.1,12.2)(12.1,13.2)(13.4,9.5)(12.8,7.7)(16.2,5.6)(17.2,8.5)(20.4,18.8)(19.1,14.7)(22.1,13.9)(10,7)(11,9)(5,8)(7,10)};
\addplot[regcf] coordinates {(2.5,8.2)(21.9,9.7)};
\rlcf{0.0092}{= 0.0062}
\end{axis}
\begin{axis}[fF, at={(750.7pt,-791.6pt)}, title=LIHC, yticklabels={}]
\addplot[cloud] coordinates {(2,2.5)(2,6)(3,8)(6,8.5)(10,8)(15,7.5)(20,7)(25,6.5)(26,5)(24,3.5)(15,3)(5,2.5)(2,2.5)};
\addplot[pts] coordinates {(3,3.5)(3,6)(4,5)(5,4)(5,7)(6,6)(7,4)(7,7.5)(8,5.5)(9,3.5)(9,7)(10,5)(11,4)(11,7)(12,5.5)(13,4)(13,7)(14,5)(15,6)(16,4)(17,6.5)(18,4)(19,5.5)(20,4)(21,6)(22,5)(23,4)(24,5.5)(17,3)(11,3)};
\addplot[pts] coordinates {(2,3)(2,6)(3,8)(6,8.5)(10,8)(15,7.5)(20,7)(25,6.5)(26,5)(24,3.5)(15,3)(5,2.5)(7.7,15.4)(7.4,12.2)(7.7,10)(15.5,19.2)(14.7,14.8)(13.8,12.5)(18,11)(26.6,19.2)(22,10)(20,9)(23,8)(25.5,4.1)(10,9)(12,9.5)(17,9)(5,9)(9,5)(18,5)};
\addplot[regcf] coordinates {(1.9,5.1)(26.6,6)};
\rlcf{0.018}{= 2.8e-13}
\end{axis}
\begin{axis}[fF, at={(899.3pt,-791.6pt)}, title=LUAD, yticklabels={}]
\addplot[cloud] coordinates {(1.5,2.5)(1.5,14)(2,20)(4,22)(8,22)(12,21)(16,19)(20,16)(22,14)(25,12)(27,9)(28,5)(25,3)(15,2)(5,2)(1.5,2.5)};
\addplot[pts] coordinates {(2,5)(2,10)(2.5,15)(3,3)(3,8)(3,12)(3,18)(4,5)(4,10)(4,14)(4,20)(5,4)(5,8)(5,13)(5,17)(5,21)(6,6)(6,11)(6,15)(6,19)(7,3)(7,9)(7,13)(7,17)(7,21)(8,7)(8,12)(8,16)(8,19)(9,3)(9,10)(9,14)(9,18)(10,6)(10,16)(10,20)(11,4)(11,9)(11,13)(11,18)(12,7)(12,11)(12,15)(12,19)(13,4)(13,9)(13,13)(13,17)(14,6)(14,11)(14,15)(15,4)(15,13)(15,17)(16,6)(16,10)(16,15)(17,4)(17,8)(17,12)(18,6)(18,10)(18,15)(19,4)(19,8)(19,12)(20,10)(20,14)(21,4)(21,8)(22,6)(22,11)(23,4)(23,8)(24,6)(24,10)(25,4)(26,7)(26,9)(27,5)};
\addplot[pts] coordinates {(1.5,3)(1.5,14)(2,20)(4,22)(8,22)(12,21)(16,19)(20,16)(22,14)(25,12)(27,9)(28,5)(25,3)(15,2)(5,2)(10.8,26.8)(12.4,26.4)(14.3,28.3)(19.8,29)(23.6,23.2)(23.9,20.7)(18.5,19.5)(23.2,15.8)(24.1,10.7)(27.4,7)(31.9,7.3)(36.9,20.5)(6,23)(9,22.5)(15,20)(20,16.5)(22,14.5)(26,12)(29,6)(25,6)(5,10)(10,12)(15,8)(20,6)(8,5)};
\addplot[band] coordinates {(1.8,8.2)(20,5.9)(36.9,4.8)(36.9,2.8)(20,5.5)(1.8,7.4)};
\addplot[regcf] coordinates {(1.8,7.8)(36.9,3.8)};
\rlcf{0.012}{< 2.2e-16}
\end{axis}
\begin{axis}[fF, at={(602.3pt,-953.3pt)}, title=PRAD]
\addplot[pts] coordinates {(2,5.3)(3.2,15.4)(4.5,18.8)(5.7,18.8)(6.1,22)(5,12)(6,16)(7,14.5)(8,13.5)(8.9,27.6)(8.7,15.1)(10,11)(11,12)(12,10)(11.7,15.5)(12.5,24.6)(12.5,6.3)(12,5)(14,13)(14.8,23.9)(15.6,23.9)(15.5,19.1)(15.7,14.4)(16.1,9.2)(17,29.5)(23.1,23.6)(25.5,14.4)(4,4)(5,5)(5,7)(6,6)(7,5)(7,8)(8,7)(8,10)(9,9)(10,8)(3,8)(4,10)(5,9.5)(6,11)(7,10)(10,13)(11,9)(13,11)(3,11)(4,6)};
\addplot[band] coordinates {(2.3,7.4)(12,12.4)(25.5,23.5)(25.5,18.5)(12,11.4)(2.3,4.4)};
\addplot[regcf] coordinates {(2.3,5.9)(25.5,21)};
\rlcf{0.26}{< 2.2e-16}
\end{axis}
\end{tikzpicture}
\end{document}
